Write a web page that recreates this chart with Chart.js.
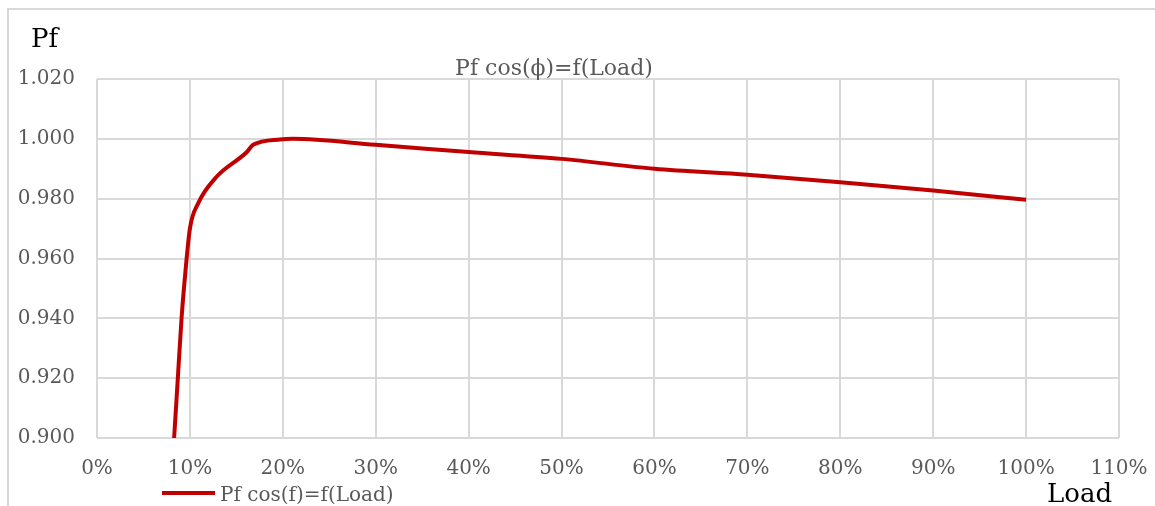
<!DOCTYPE html>
<html lang="en">
<head>
    <meta charset="UTF-8">
    <title>Pf cos(ϕ)=f(Load)</title>
    <style>
        * { margin: 0; padding: 0; box-sizing: border-box; }
        body { background: #ffffff; width: 1155px; height: 506px; overflow: hidden; }
        #chart { display: block; }
    </style>
</head>
<body>
    <canvas id="chart" width="1155" height="506"></canvas>
    <script src="https://cdn.jsdelivr.net/npm/chart.js@4/dist/chart.umd.min.js"></script>
    <script>
        const FONT = "'DejaVu Serif', serif";

        // load (fraction of rated) and power factor
        const load = [0.083, 0.087, 0.091, 0.095, 0.10, 0.109, 0.129, 0.161, 0.168, 0.197, 0.211, 0.30, 0.40, 0.50, 0.60, 0.70, 0.80, 0.90, 1.00];
        const pf = [0.900, 0.920, 0.940, 0.955, 0.970, 0.9785, 0.9874, 0.9955, 0.998, 0.9998, 1.000, 0.998, 0.9956, 0.9933, 0.990, 0.988, 0.9855, 0.9827, 0.9796];

        const chartTitle = "Pf cos(ϕ)=f(Load)";
        const seriesName = "Pf cos(f)=f(Load)";
        const yTitle = "Pf";
        const xTitle = "Load";

        const points = load.map((x, i) => ({ x: x, y: pf[i] }));

        // texts Excel puts around the plot: title, axis names, legend, outer frame
        const decorations = {
            id: "decorations",
            afterDraw(chart) {
                const ctx = chart.ctx;
                ctx.save();
                ctx.strokeStyle = "#d9d9d9";
                ctx.lineWidth = 2;
                ctx.beginPath();
                ctx.moveTo(8, 520);
                ctx.lineTo(8, 9);
                ctx.lineTo(1170, 9);
                ctx.stroke();

                ctx.textBaseline = "alphabetic";
                ctx.fillStyle = "#595959";
                ctx.font = "22px " + FONT;
                ctx.textAlign = "center";
                ctx.fillText(chartTitle, 554, 75);

                ctx.fillStyle = "#000000";
                ctx.font = "26px " + FONT;
                ctx.textAlign = "left";
                ctx.fillText(yTitle, 31, 47);
                ctx.fillText(xTitle, 1047, 502);

                ctx.strokeStyle = "#c00000";
                ctx.lineWidth = 4;
                ctx.beginPath();
                ctx.moveTo(162, 493);
                ctx.lineTo(215, 493);
                ctx.stroke();
                ctx.fillStyle = "#595959";
                ctx.font = "20px " + FONT;
                ctx.fillText(seriesName, 220, 501);
                ctx.restore();
            }
        };

        new Chart(document.getElementById("chart"), {
            type: "line",
            data: {
                datasets: [{
                    label: seriesName,
                    data: points,
                    borderColor: "#c00000",
                    borderWidth: 4,
                    pointRadius: 0,
                    fill: false,
                    cubicInterpolationMode: "monotone"
                }]
            },
            plugins: [decorations],
            options: {
                responsive: false,
                animation: false,
                layout: { padding: { left: 0, right: 36, top: 79, bottom: 0 } },
                plugins: {
                    legend: { display: false },
                    title: { display: false },
                    tooltip: { enabled: false }
                },
                scales: {
                    x: {
                        type: "linear",
                        min: 0,
                        max: 1.1,
                        afterFit(scale) {
                            scale.height = 68;
                            scale.paddingLeft = 0;
                            scale.paddingRight = 0;
                        },
                        border: { display: false },
                        grid: { color: "#d9d9d9", lineWidth: 2, drawTicks: false },
                        ticks: {
                            stepSize: 0.1,
                            padding: 19,
                            color: "#595959",
                            font: { family: FONT, size: 20 },
                            maxRotation: 0,
                            callback: (v) => Math.round(v * 100) + "%"
                        }
                    },
                    y: {
                        min: 0.9,
                        max: 1.02,
                        afterFit(scale) {
                            scale.width = 97;
                            scale.paddingTop = 0;
                            scale.paddingBottom = 0;
                        },
                        border: { display: false },
                        grid: { color: "#d9d9d9", lineWidth: 2, drawTicks: false },
                        ticks: {
                            stepSize: 0.02,
                            padding: 22,
                            color: "#595959",
                            font: { family: FONT, size: 20 },
                            callback: (v) => v.toFixed(3)
                        }
                    }
                }
            }
        });
    </script>
</body>
</html>
